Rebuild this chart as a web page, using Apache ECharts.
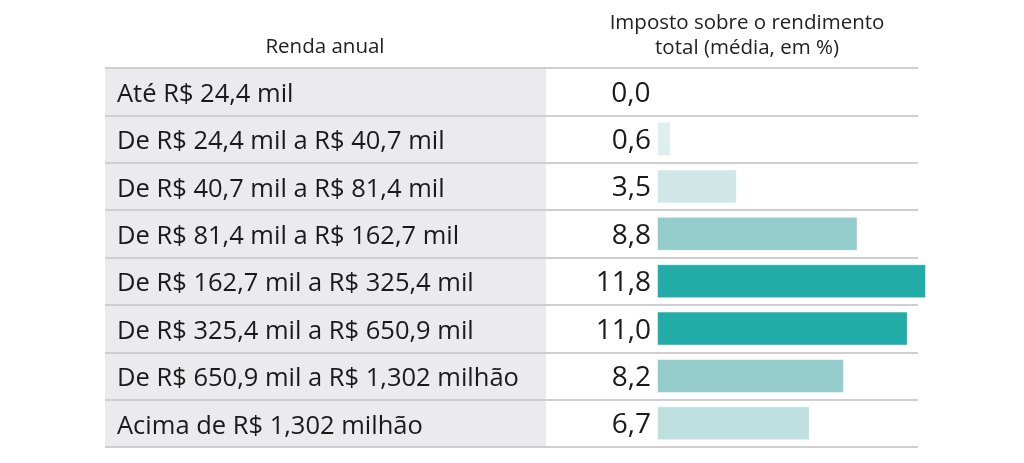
<!DOCTYPE html>
<html>
<head>
<meta charset="utf-8">
<script src="https://cdn.jsdelivr.net/npm/echarts@6/dist/echarts.min.js"></script>
<style>
html,body{margin:0;padding:0;background:#fff;}
#chart{width:1024px;height:463px;}
</style>
</head>
<body>
<div id="chart"></div>
<script>
const categories = [
  'Até R$ 24,4 mil',
  'De R$ 24,4 mil a R$ 40,7 mil',
  'De R$ 40,7 mil a R$ 81,4 mil',
  'De R$ 81,4 mil a R$ 162,7 mil',
  'De R$ 162,7 mil a R$ 325,4 mil',
  'De R$ 325,4 mil a R$ 650,9 mil',
  'De R$ 650,9 mil a R$ 1,302 milhão',
  'Acima de R$ 1,302 milhão'
];
const taxRates = [0.0, 0.6, 3.5, 8.8, 11.8, 11.0, 8.2, 6.7];
const headerLeft = 'Renda anual';
const headerRight = ['Imposto sobre o rendimento', 'total (média, em %)'];

const FONT = '"Open Sans"';
function barColor(v) {
  if (v < 2) return '#DDEFEE';
  if (v < 5) return '#CFE8E7';
  if (v < 8) return '#BDE0DF';
  if (v < 10) return '#94CCCC';
  return '#21ACA8';
}

const chart = echarts.init(document.getElementById('chart'), null, {renderer: 'canvas'});
const TOP = 68, BOTTOM = 463 - 447;
const option = {
  animation: false,
  backgroundColor: '#fff',
  graphic: [
    {type: 'text', x: 325, y: 37, style: {text: headerLeft, font: '20.5px ' + FONT, fill: '#222', textAlign: 'center'}},
    {type: 'text', x: 747, y: 11, style: {text: headerRight.join('\n'), font: '20.5px ' + FONT, fill: '#222', textAlign: 'center', lineHeight: 25}}
  ],
  grid: [
    {left: 105, width: 441, top: TOP, bottom: BOTTOM, show: true, backgroundColor: '#EBEBED', borderWidth: 0},
    {left: 546, width: 372, top: TOP, bottom: BOTTOM, show: false},
    {left: 657, width: 12 * 22.8, top: TOP, bottom: BOTTOM, show: false}
  ],
  xAxis: [
    {gridIndex: 0, type: 'value', show: false},
    {gridIndex: 1, type: 'value', show: false},
    {gridIndex: 2, type: 'value', min: 0, max: 12, show: false}
  ],
  yAxis: [
    {gridIndex: 0, type: 'category', data: categories, inverse: true,
     axisLine: {show: false}, axisTick: {show: false},
     axisLabel: {inside: true, margin: 12, align: 'left',
       formatter: '{a|{value}}',
       rich: {a: {color: '#1a1a1a', fontFamily: FONT, fontSize: 25.5, padding: [6, 0, 0, 0]}}},
     splitLine: {show: true, lineStyle: {color: '#CFCFD3', width: 2}}},
    {gridIndex: 1, type: 'category', data: categories, inverse: true,
     axisLine: {show: false}, axisTick: {show: false}, axisLabel: {show: false},
     splitLine: {show: true, lineStyle: {color: '#CFCFD3', width: 2}}},
    {gridIndex: 2, type: 'category', data: categories, inverse: true, show: false}
  ],
  series: [{
    type: 'bar',
    xAxisIndex: 2, yAxisIndex: 2,
    data: taxRates,
    barWidth: 34,
    itemStyle: {color: p => barColor(p.value), borderColor: 'rgba(255,255,255,0.5)', borderWidth: 1},
    label: {
      show: true, position: 'left', distance: 6, offset: [0, 2],
      formatter: p => p.value.toFixed(1).replace('.', ','),
      color: '#1a1a1a', fontFamily: FONT, fontSize: 28
    }
  }]
};
chart.setOption(option);
</script>
</body>
</html>
